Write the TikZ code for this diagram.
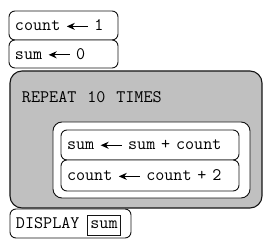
\documentclass[tikz,border=0pt]{standalone}
\usetikzlibrary{arrows.meta, positioning}
\definecolor{bgray}{RGB}{192,192,192}
\definecolor{bline}{RGB}{20,20,20}
\newcommand{\asgn}{\tikz[baseline=-0.6ex]\draw[-{Stealth[length=8pt,width=7pt]}, line width=1.2pt] (21pt,0) -- (0,0);}
\newcommand{\codefont}{\ttfamily\fontsize{17.6}{20}\selectfont\spaceskip=0.62em\relax}

\begin{document}
\begin{tikzpicture}[
  x=1pt, y=1pt,
  every node/.style={inner sep=0pt, outer sep=0pt},
  stmt/.style={rectangle, draw=bline, fill=white, line width=0.9pt,
               rounded corners=6pt, inner xsep=6pt, align=left,
               font=\codefont, anchor=north west},
  loopbox/.style={rectangle, draw=bline, fill=bgray, line width=1.1pt,
                  rounded corners=12pt, anchor=north west},
  txt/.style={font=\codefont, anchor=west}
]
\useasboundingbox (0,0) rectangle (277,-249);

% Start values
\node[stmt, text width=97pt, minimum height=29pt] (cnt) at (9,-11)
  {count \asgn{} 1};
\node[stmt, text width=97pt, minimum height=28pt] (sum) at (cnt.south west)
  {sum \asgn{} 0};

% Loop
\node[loopbox, minimum width=252pt, minimum height=137pt] (rep) at (10,-71) {};
\node[txt] (reptxt) at (22,-97) {REPEAT 10 TIMES};
\node[stmt, rounded corners=9pt, minimum width=197pt, minimum height=76pt,
      text width=185pt] (body) at (53,-122) {};
\node[stmt, text width=166pt, minimum height=30pt] (add) at (61,-130)
  {sum \asgn{} sum + count};
\node[stmt, text width=166pt, minimum height=31pt] (inc) at (add.south west)
  {count \asgn{} count + 2};

% Output
\node[stmt, text width=109pt, minimum height=29pt] (disp) at (10,-209)
  {DISPLAY};
\node[stmt, draw, rounded corners=0pt, inner xsep=3pt, minimum height=20pt,
      anchor=center] (dvar) at (104,-225) {sum};

\end{tikzpicture}
\end{document}
